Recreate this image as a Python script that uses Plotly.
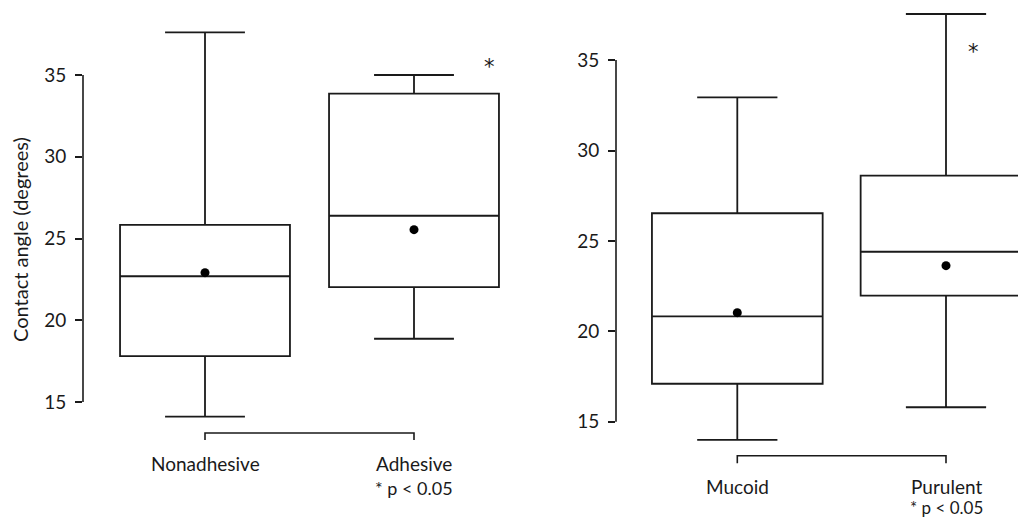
import plotly.graph_objects as go

# page offset (browser body margin) and figure size
OX, OY = 8, 8
W, H = 1026 - OX, 519 - OY

# ---- data ----
left_groups = ["Nonadhesive", "Adhesive"]
left_low = [14.10, 18.87]
left_q1 = [17.80, 22.03]
left_median = [22.69, 26.39]
left_q3 = [25.83, 33.86]
left_high = [37.61, 35.00]
left_mean = [22.91, 25.54]

right_groups = ["Mucoid", "Purulent"]
right_low = [13.99, 15.80]
right_q1 = [17.10, 21.97]
right_median = [20.83, 24.40]
right_q3 = [26.53, 28.61]
right_high = [32.94, 37.55]
right_mean = [21.03, 23.63]

tick_vals = [15, 20, 25, 30, 35]
y_title = "Contact angle (degrees)"
note = "* p < 0.05"
star = "*"

FONT = "Lato"
INK = "#1a1a1a"
LW = 1.8


def px(x):
    return (x - OX) / W


def py(y):
    return (H - (y - OY)) / H


fig = go.Figure()


def add_panel(xa, ya, low, q1, med, q3, high, mean, width):
    xs = list(range(len(med)))
    fig.add_trace(go.Box(
        x=xs, q1=q1, median=med, q3=q3, lowerfence=low, upperfence=high,
        width=width, whiskerwidth=0.47, fillcolor="white",
        line=dict(color=INK, width=LW), boxpoints=False,
        xaxis=xa, yaxis=ya, hoverinfo="skip"))
    fig.add_trace(go.Scatter(
        x=xs, y=mean, mode="markers",
        marker=dict(color="black", size=9),
        xaxis=xa, yaxis=ya, hoverinfo="skip"))


add_panel("x", "y", left_low, left_q1, left_median, left_q3, left_high, left_mean, 0.813)
add_panel("x2", "y2", right_low, right_q1, right_median, right_q3, right_high, right_mean, 0.818)

yax_common = dict(
    tickmode="array", tickvals=tick_vals, ticks="outside", ticklen=7,
    tickwidth=1.6, tickcolor=INK, showgrid=False, zeroline=False,
    showline=False, tickfont=dict(family=FONT, size=19, color=INK),
    ticklabelstandoff=5, domain=[0, 1])

# pixel -> value mappings
# left: y(v) = 402 - (v-15)*16.35 ; right: y(v) = 421.7 - (v-15)*18.08
l_lo = 15 - (519 - 402) / 16.35
l_hi = 15 + (402 - OY) / 16.35
r_lo = 15 - (519 - 421.7) / 18.08
r_hi = 15 + (421.7 - OY) / 18.08

fig.update_layout(
    width=W, height=H, margin=dict(l=0, r=0, t=0, b=0),
    paper_bgcolor="white", plot_bgcolor="white", showlegend=False,
    xaxis=dict(domain=[px(83), px(515)],
               range=[(83 - 205) / 209, (515 - 205) / 209], visible=False),
    yaxis=dict(range=[l_lo, l_hi], anchor="x", **yax_common),
    xaxis2=dict(domain=[px(616), 1],
                range=[(616 - 737.3) / 208.7, (1026 - 737.3) / 208.7], visible=False),
    yaxis2=dict(range=[r_lo, r_hi], anchor="x2", **yax_common),
)

# axis lines spanning only the tick range
for xr, yr in (("x domain", "y"), ("x2 domain", "y2")):
    fig.add_shape(type="line", xref=xr, yref=yr, x0=0, x1=0,
                  y0=tick_vals[0], y1=tick_vals[-1],
                  line=dict(color=INK, width=1.6))


# comparison brackets
def bracket(xr, y_top, y_bot):
    fig.add_shape(type="path", xref=xr, yref="paper",
                  path=f"M 0 {y_bot} L 0 {y_top} L 1 {y_top} L 1 {y_bot}",
                  line=dict(color=INK, width=1.6))


bracket("x", py(433), py(440))
bracket("x2", py(455.7), py(463.3))


def label(xr, x, ypx, text, size=19, family=FONT):
    fig.add_annotation(xref=xr, yref="paper", x=x, y=py(ypx),
                       text=text, showarrow=False, xanchor="center",
                       yanchor="middle",
                       font=dict(family=family, size=size, color=INK))


label("x", 0, 463, left_groups[0])
label("x", 1, 463, left_groups[1])
label("x", 1, 488, note, 18)
label("x2", 0, 486, right_groups[0])
label("x2", 1, 486, right_groups[1])
label("x2", 1, 507, note, 17)

# significance stars
label("x", (489 - 205) / 209, 67, star, 21, "DejaVu Sans")
label("x2", (973 - 737.3) / 208.7, 52, star, 21, "DejaVu Sans")

# y-axis title
fig.add_annotation(xref="paper", yref="paper", x=px(20), y=py(240),
                   text=y_title, textangle=-90, showarrow=False,
                   xanchor="center", yanchor="middle",
                   font=dict(family=FONT, size=20, color=INK))

fig.write_html("out.html")
